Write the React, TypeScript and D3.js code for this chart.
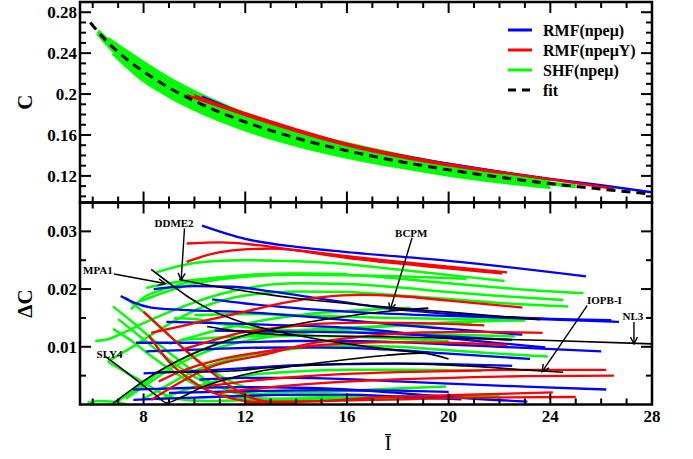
import React from 'react';
import * as d3 from 'd3';

type Pt = [number, number];

const W = 693;
const H = 459;
const LEFT = 80;
const RIGHT = 652;
const TOP_Y0 = 2;
const MID_Y = 202.5;
const BOT_Y1 = 404.5;

// ---- axis ticks ----
const xTicks = [8, 12, 16, 20, 24, 28];
const xMinorTicks = [6, 7, 9, 10, 11, 13, 14, 15, 17, 18, 19, 21, 22, 23, 25, 26, 27];
const cTicks = [0.12, 0.16, 0.2, 0.24, 0.28];
const cTickLabels = ['0.12', '0.16', '0.2', '0.24', '0.28'];
const cMinorTicks = [0.1, 0.11, 0.13, 0.14, 0.15, 0.17, 0.18, 0.19, 0.21, 0.22, 0.23, 0.25, 0.26, 0.27];
const dcTicks = [0.01, 0.02, 0.03];
const dcTickLabels = ['0.01', '0.02', '0.03'];
const dcMinorTicks = [0.005, 0.015, 0.025];

// ---- legend ----
const legendLabels = ['RMF(npeμ)', 'RMF(npeμY)', 'SHF(npeμ)', 'fit'];
const legendColors = ['#0000ff', '#ff0000', '#00ff00', '#000000'];

// ---- upper panel: C versus I ----
const fitI = [5.9, 6.5, 7, 8, 9, 10, 11, 12, 13, 14, 16, 18, 20, 22, 24, 26, 28];
const fitC = [0.27, 0.253, 0.241, 0.222, 0.2063, 0.1933, 0.1822, 0.1727, 0.1644, 0.157, 0.1446, 0.1344, 0.1259, 0.1187, 0.1125, 0.1071, 0.1022];

const blueC: Pt[][] = [
  [[7.1, 0.233], [8, 0.215], [9, 0.1995], [10, 0.187], [12, 0.167]],
  [[7.2, 0.2435], [8, 0.2275], [9, 0.2125], [10, 0.1995], [12, 0.1785], [16, 0.1495]],
];
const blueCTop: Pt[][] = [
  [[10.3, 0.1975], [12, 0.1805], [14, 0.165], [16, 0.151], [18, 0.1405], [20, 0.1318], [22, 0.124], [24, 0.117], [26, 0.1108], [28, 0.104]],
];
const greenC: Pt[][] = [
  [[6.6, 0.254], [7, 0.247], [8, 0.2305], [9, 0.215], [10, 0.202], [12, 0.1805], [14, 0.164], [16, 0.1513], [18, 0.1405], [20, 0.131], [22, 0.1233]],
  [[6.2, 0.2615], [7, 0.244], [8, 0.2262], [9, 0.2105], [10, 0.1975], [12, 0.1765], [14, 0.1605], [16, 0.148], [18, 0.1375], [20, 0.1285], [22, 0.121], [24, 0.1145]],
  [[6.2, 0.2595], [7, 0.241], [8, 0.2222], [9, 0.2065], [10, 0.1935], [12, 0.1728], [14, 0.157], [16, 0.1447], [18, 0.1345], [20, 0.126], [22, 0.1188], [24, 0.1126], [25, 0.1097]],
  [[6.3, 0.2565], [7, 0.238], [8, 0.218], [9, 0.2022], [10, 0.1893], [12, 0.169], [14, 0.1535], [16, 0.1413], [18, 0.1315], [20, 0.1233], [22, 0.1164], [24, 0.1105]],
  [[6.8, 0.24], [8, 0.2135], [9, 0.1982], [10, 0.1855], [12, 0.1655], [14, 0.1505], [16, 0.1388], [18, 0.1293], [20, 0.1212], [22, 0.1146], [24, 0.109]],
  [[7.5, 0.228], [8, 0.22], [9, 0.204], [10, 0.1912], [12, 0.1708], [14, 0.1553], [16, 0.143], [18, 0.133], [20, 0.1247]],
  [[8.5, 0.218], [9, 0.2085], [10, 0.1955], [12, 0.1748], [14, 0.1588], [16, 0.1463], [18, 0.136], [20, 0.1272], [22, 0.1199]],
];
const redC: Pt[][] = [
  [[9.7, 0.199], [12, 0.1795], [16, 0.15], [20, 0.1303], [22.2, 0.1225]],
  [[10, 0.1985], [11, 0.1895], [12, 0.1812], [14, 0.1655], [16, 0.1512], [18, 0.1405], [20, 0.1315], [22, 0.1238], [24, 0.1168], [26.5, 0.1075]],
];

// ---- lower panel: deviation from the fit ----
const blueDC: Pt[][] = [
  [[10.3, 0.031], [12, 0.0287], [14, 0.0273], [16, 0.0264], [20, 0.0249], [25.4, 0.0222]],
  [[10.7, 0.0182], [12, 0.0175], [14, 0.0167], [16, 0.0161], [19, 0.0155], [23, 0.0149], [26.7, 0.0143]],
  [[8.4, 0.02], [10, 0.0205], [11.5, 0.0204], [13, 0.0196], [15, 0.0183], [17, 0.017], [19.7, 0.0158], [23, 0.015], [26.4, 0.0146]],
  [[7.1, 0.0188], [7.6, 0.0177], [8.3, 0.0168], [9.5, 0.0164], [12, 0.016], [15, 0.015], [18, 0.0138], [20, 0.0131], [22.9, 0.0121]],
  [[8.9, 0.0143], [11, 0.0141], [13, 0.0138], [16, 0.0133], [18, 0.0125], [20, 0.0115], [23.8, 0.0099]],
  [[7.7, 0.0107], [10, 0.0107], [12, 0.0108], [14, 0.011], [16, 0.011], [18, 0.0108], [20, 0.0104], [23, 0.0098], [26, 0.0092]],
  [[8.1, 0.0092], [10, 0.0095], [12, 0.0098], [14, 0.0099], [16, 0.0098], [18, 0.0094], [20, 0.0088], [23.2, 0.0079]],
  [[10.8, 0.0128], [12, 0.0127], [14, 0.0126], [16, 0.0125], [18, 0.0122], [20, 0.0118], [22.5, 0.0112]],
  [[8, 0.0054], [10, 0.0058], [12, 0.0063], [14, 0.0068], [16, 0.007], [18, 0.0071], [20, 0.007], [22.5, 0.0067]],
  [[10.2, 0.0043], [12, 0.0046], [14, 0.0046], [16, 0.0044], [18, 0.004], [20, 0.0036], [23, 0.0031], [26.2, 0.0026]],
  [[7.6, 0.0026], [10, 0.0029], [12, 0.003], [14, 0.0029], [16, 0.0026], [18, 0.002], [20, 0.0013], [23.1, 0.0005]],
  [[7.6, 0.0008], [10, 0.0012], [12, 0.0015], [14, 0.0017], [16, 0.0017], [18, 0.0014], [20.5, 0.0009]],
  [[9, 0.002], [12, 0.0023], [15, 0.0025], [18, 0.0024], [20, 0.0022]],
];
const redDC: Pt[][] = [
  [[9.7, 0.0279], [11, 0.0281], [12.5, 0.0276], [14, 0.0267], [16, 0.0254], [19, 0.024], [22.1, 0.0227]],
  [[9.7, 0.0247], [10.5, 0.0259], [11.5, 0.0267], [13, 0.027], [16, 0.0257], [19, 0.0243], [22.3, 0.0229]],
  [[8.3, 0.0124], [9, 0.0131], [10, 0.0141], [11, 0.0151], [12, 0.0161], [13.5, 0.0176], [15, 0.0186], [16.5, 0.019], [18, 0.0188], [20, 0.018], [22.9, 0.0168]],
  [[8, 0.0161], [9, 0.012], [9.7, 0.0092], [10.5, 0.0062], [11.3, 0.0035], [12.1, 0.0014], [13, 0.0005], [15, 0.0006], [17, 0.0012], [20, 0.0016], [24.1, 0.0021]],
  [[8.6, 0.004], [9.5, 0.0058], [10.9, 0.0077], [12.5, 0.009], [14, 0.0099], [16, 0.0106], [18, 0.0108], [20, 0.0107], [22.3, 0.0103]],
  [[9.5, 0.0095], [10.5, 0.0108], [11.8, 0.0124], [13.5, 0.0134], [15, 0.014], [17, 0.0142], [19, 0.0141], [21.4, 0.0137]],
  [[8.3, 0.0008], [9.5, 0.004], [10.7, 0.0066], [12.6, 0.0085], [14.5, 0.0105], [16.5, 0.0117], [19, 0.0125], [21, 0.0126], [23.7, 0.0124]],
  [[10, 0.0028], [12, 0.004], [14, 0.0048], [16, 0.0053], [18, 0.0056], [20, 0.0058], [23, 0.006], [26.2, 0.006]],
  [[11, 0.002], [13, 0.003], [15, 0.0037], [17, 0.0042], [20, 0.0046], [23, 0.0049], [26.5, 0.005]],
  [[12, 0.0003], [15, 0.0006], [18, 0.0009], [21, 0.0012], [25, 0.0013]],
  [[8.2, 0.012], [9, 0.0074], [9.8, 0.0044], [10.5, 0.0025], [11.5, 0.001], [12.5, 0.0004], [14, 0.0003]],
];
const greenDC: Pt[][] = [
  [[8.5, 0.0229], [9.5, 0.0241], [10.7, 0.0248], [12, 0.025], [14, 0.0248], [16, 0.0243], [18, 0.0234], [20.5, 0.0222], [22.2, 0.0214]],
  [[7.9, 0.0179], [9, 0.0197], [10, 0.0209], [11, 0.0217], [12.5, 0.0223], [14, 0.0225], [16, 0.0224], [18, 0.0222], [20.7, 0.0218]],
  [[8.1, 0.0202], [9, 0.021], [10, 0.0216], [11.5, 0.0222], [13, 0.0226], [15, 0.0226], [17, 0.0222], [19, 0.0214], [21, 0.0206], [23, 0.0199], [25.3, 0.0193]],
  [[6.1, 0.011], [6.6, 0.0113], [7.2, 0.0124], [8, 0.0141], [9, 0.016], [10, 0.0177], [11, 0.0191], [12.5, 0.0205], [14, 0.021], [16, 0.0209], [18, 0.0203], [20, 0.0195], [22, 0.0188], [24.5, 0.0181]],
  [[6.6, 0.0075], [7.5, 0.0098], [8.5, 0.0126], [9.5, 0.0152], [10.5, 0.0172], [12, 0.0189], [14, 0.0196], [16, 0.0195], [18, 0.0189], [20, 0.0183], [22, 0.0176], [24.7, 0.017]],
  [[6.8, 0.017], [7.5, 0.0145], [8.3, 0.0115], [9, 0.009], [9.8, 0.0063], [10.5, 0.0042], [11.3, 0.0025], [12, 0.0015], [13, 0.001], [16, 0.001], [19, 0.0012]],
  [[6.8, 0.0131], [7.6, 0.0108], [8.3, 0.0084], [9, 0.0062], [9.8, 0.004], [10.5, 0.0025], [11.5, 0.0014], [13, 0.0008], [16, 0.0008], [20.7, 0.0012]],
  [[6.6, 0.0074], [7.3, 0.0056], [8, 0.0038], [8.6, 0.0022], [9.3, 0.001], [10.5, 0.0006], [13, 0.0009], [16, 0.0012], [22, 0.0014]],
  [[5.8, 0.0003], [6.2, 0.0006], [6.7, 0.0005], [7.3, 0.0001]],
  [[7.3, 0.0185], [8, 0.016], [8.8, 0.0128], [9.6, 0.0096], [10.4, 0.0068], [11.2, 0.0045], [12, 0.003], [13, 0.0022], [15, 0.0022], [17, 0.0026], [19.9, 0.0031]],
  [[7, 0.0148], [7.8, 0.012], [8.5, 0.0095], [9.3, 0.0068], [10, 0.0048], [11, 0.003], [12, 0.002], [14, 0.0016], [17, 0.0014], [22, 0.0014]],
  [[6.9, 0.0003], [7.8, 0.003], [8.7, 0.0058], [9.7, 0.0083], [10.8, 0.0103], [12, 0.0118], [14, 0.0128], [16, 0.0133], [18, 0.0137], [20.9, 0.0142]],
  [[7.3, 0.001], [8.3, 0.004], [9.3, 0.0068], [10.5, 0.0092], [12, 0.011], [14, 0.0123], [16, 0.013], [18, 0.0137], [20, 0.0142], [23, 0.0146]],
  [[8, 0.001], [9, 0.0035], [10, 0.0058], [11.2, 0.0076], [12.5, 0.0088], [14, 0.0097], [16, 0.0102], [18, 0.01], [20, 0.0094], [22, 0.0088], [23.9, 0.0083]],
  [[8.6, 0.0008], [9.6, 0.0025], [10.8, 0.004], [12, 0.005], [14, 0.0057], [16, 0.006], [18, 0.006], [21.3, 0.0058]],
  [[9, 0.0105], [10, 0.0118], [11.5, 0.0135], [13, 0.0148], [14.5, 0.0157], [16, 0.0162], [18.5, 0.0167]],
  [[9.2, 0.015], [10, 0.0148], [11, 0.014], [12.5, 0.0132], [14, 0.0128], [16, 0.0126], [18, 0.0124], [20, 0.0121], [22.6, 0.0118]],
  [[10, 0.0155], [12, 0.0157], [14, 0.0155], [16, 0.0152], [18, 0.015], [20, 0.0148], [23, 0.0146]],
  [[7.5, 0.0165], [8, 0.0185], [8.8, 0.02], [9.8, 0.0212], [11, 0.022], [12.5, 0.0225], [14, 0.0227], [16, 0.0226]],
  [[9.5, 0.0112], [10.5, 0.0115], [12, 0.0118], [14, 0.0119], [16, 0.0118], [18, 0.0114], [20, 0.011]],
];

// labelled models (black)
const mpa1: Pt[] = [[8.3, 0.0234], [8.9, 0.0214], [9.7, 0.0188], [10.5, 0.0167], [11.5, 0.0148], [12.8, 0.0131], [14, 0.012], [16, 0.0105], [18, 0.0094], [19, 0.0089]];
const ddme2: Pt[] = [[9.4, 0.0217], [10.5, 0.0207], [11.5, 0.02], [12.5, 0.0193], [14, 0.0184], [16, 0.0175], [18, 0.0167], [20, 0.016], [22, 0.0153], [23.6, 0.0147]];
const bcpm: Pt[] = [[6.8, 0.0002], [7.5, 0.0025], [8.5, 0.0055], [9.7, 0.0083], [10.7, 0.0102], [11.8, 0.0118], [13, 0.013], [14.5, 0.0143], [16, 0.0153], [17.7, 0.0162], [19.2, 0.0167]];
const nl3: Pt[] = [[10.5, 0.0135], [11.5, 0.0128], [13, 0.0122], [15, 0.0119], [18, 0.0117], [21, 0.0114], [24, 0.0111], [28, 0.0105]];
const sly4: Pt[] = [[6.5, 0.0083], [7.2, 0.006], [7.9, 0.0036], [8.5, 0.0016], [8.9, 0.0003], [9.5, 0.0013], [10.3, 0.003], [11.2, 0.0043], [12.5, 0.0057], [14, 0.0067], [16, 0.0078], [17.5, 0.0085], [18.9, 0.0089], [20, 0.0079]];
const iopb: Pt[] = [[8.6, 0.0056], [10, 0.0056], [11.5, 0.0058], [13, 0.0064], [15, 0.0069], [17, 0.0071], [19, 0.007], [21, 0.0066], [23, 0.006], [24.5, 0.0056]];
const blackDC: Pt[][] = [mpa1, ddme2, bcpm, nl3, sly4, iopb];

// annotation labels: text anchor point and arrow (from, to) in data units
const annoNames = ['DDME2', 'MPA1', 'SLY4', 'BCPM', 'IOPB-I', 'NL3'];
const annoText: Pt[] = [[9.2, 0.0308], [5.62, 0.02253], [6.15, 0.00814], [18.53, 0.02902], [26.13, 0.01741], [27.25, 0.01464]];
const annoAnchor = ['middle', 'start', 'start', 'middle', 'middle', 'middle'];
const annoArrowFrom: (Pt | null)[] = [[9.61, 0.0305], [6.84, 0.02261], null, [18.56, 0.02885], [25.45, 0.01715], [27.29, 0.0143]];
const annoArrowTo: (Pt | null)[] = [[9.48, 0.02156], [8.85, 0.02097], null, [17.7, 0.01637], [23.68, 0.00568], [27.29, 0.01048]];

const FONT = '"Liberation Serif", "Times New Roman", serif';

export default function App() {
  const x = d3.scaleLinear().domain([5.5, 28]).range([LEFT, RIGHT]);
  const yC = d3.scaleLinear().domain([0.094, 0.29]).range([MID_Y, TOP_Y0]);
  const yD = d3.scaleLinear().domain([0, 0.035]).range([BOT_Y1, MID_Y]);

  const lineC = d3.line<Pt>().x((d) => x(d[0])).y((d) => yC(d[1])).curve(d3.curveMonotoneX);
  const lineD = d3.line<Pt>().x((d) => x(d[0])).y((d) => yD(d[1])).curve(d3.curveMonotoneX);
  const fitPts: Pt[] = fitI.map((v, i) => [v, fitC[i]]);

  const MAJ = 11;
  const MIN = 6;

  const axisTicks = (yScale: d3.ScaleLinear<number, number>, y0: number, y1: number, major: number[], minor: number[], key: string) => (
    <g key={key} stroke="#000" strokeWidth={2}>
      {xTicks.map((t) => (
        <g key={'xm' + t}>
          <line x1={x(t)} x2={x(t)} y1={y0} y2={y0 + MAJ} />
          <line x1={x(t)} x2={x(t)} y1={y1} y2={y1 - MAJ} />
        </g>
      ))}
      {xMinorTicks.map((t) => (
        <g key={'xn' + t}>
          <line x1={x(t)} x2={x(t)} y1={y0} y2={y0 + MIN} />
          <line x1={x(t)} x2={x(t)} y1={y1} y2={y1 - MIN} />
        </g>
      ))}
      {major.map((t) => (
        <g key={'ym' + t}>
          <line x1={LEFT} x2={LEFT + MAJ} y1={yScale(t)} y2={yScale(t)} />
          <line x1={RIGHT} x2={RIGHT - MAJ} y1={yScale(t)} y2={yScale(t)} />
        </g>
      ))}
      {minor.map((t) => (
        <g key={'yn' + t}>
          <line x1={LEFT} x2={LEFT + MIN} y1={yScale(t)} y2={yScale(t)} />
          <line x1={RIGHT} x2={RIGHT - MIN} y1={yScale(t)} y2={yScale(t)} />
        </g>
      ))}
    </g>
  );

  return (
    <svg width={W} height={H} style={{ display: 'block', position: 'absolute', left: 0, top: 0 }} fontFamily={FONT}>
      <defs>
        <clipPath id="clipTop">
          <rect x={LEFT} y={TOP_Y0} width={RIGHT - LEFT} height={MID_Y - TOP_Y0} />
        </clipPath>
        <clipPath id="clipBot">
          <rect x={LEFT} y={MID_Y} width={RIGHT - LEFT} height={BOT_Y1 - MID_Y} />
        </clipPath>
        <marker id="arrow" viewBox="-8 -5 10 10" refX={0} refY={0} markerWidth={10} markerHeight={10} markerUnits="userSpaceOnUse" orient="auto">
          <path d="M-7,-3.5 L0,0 L-7,3.5" fill="none" stroke="#000" strokeWidth={1.4} />
        </marker>
      </defs>
      <rect x={0} y={0} width={W} height={H} fill="#fff" />

      {/* upper panel curves */}
      <g clipPath="url(#clipTop)" fill="none">
        {blueC.map((c, i) => <path key={'bc' + i} d={lineC(c) || ''} stroke="#0000ff" strokeWidth={2.5} />)}
        {greenC.map((c, i) => <path key={'gc' + i} d={lineC(c) || ''} stroke="#00ff00" strokeWidth={4} />)}
        {blueCTop.map((c, i) => <path key={'bt' + i} d={lineC(c) || ''} stroke="#0000ff" strokeWidth={2.5} />)}
        {redC.map((c, i) => <path key={'rc' + i} d={lineC(c) || ''} stroke="#ff0000" strokeWidth={2.5} />)}
        <path d={lineC(fitPts) || ''} stroke="#000" strokeWidth={3} strokeDasharray="9,6" />
      </g>

      {/* lower panel curves */}
      <g clipPath="url(#clipBot)" fill="none">
        {greenDC.map((c, i) => <path key={'gd' + i} d={lineD(c) || ''} stroke="#00ff00" strokeWidth={2.5} />)}
        {blueDC.map((c, i) => <path key={'bd' + i} d={lineD(c) || ''} stroke="#0000ff" strokeWidth={2.3} />)}
        {redDC.map((c, i) => <path key={'rd' + i} d={lineD(c) || ''} stroke="#ff0000" strokeWidth={2.3} />)}
        {blackDC.map((c, i) => <path key={'kd' + i} d={lineD(c) || ''} stroke="#000" strokeWidth={1.6} />)}
      </g>

      {/* ticks */}
      {axisTicks(yC, TOP_Y0, MID_Y, cTicks, cMinorTicks, 'tTop')}
      {axisTicks(yD, MID_Y, BOT_Y1, dcTicks, dcMinorTicks, 'tBot')}

      {/* frames */}
      <rect x={LEFT} y={TOP_Y0} width={RIGHT - LEFT} height={MID_Y - TOP_Y0} fill="none" stroke="#000" strokeWidth={2.5} />
      <rect x={LEFT} y={MID_Y} width={RIGHT - LEFT} height={BOT_Y1 - MID_Y} fill="none" stroke="#000" strokeWidth={2.5} />

      {/* tick labels */}
      <g fontSize={17} fontWeight="bold" fill="#000">
        {cTicks.map((t, i) => (
          <text key={'cl' + t} x={LEFT - 3} y={yC(t)} dy="0.36em" textAnchor="end">{cTickLabels[i]}</text>
        ))}
        {dcTicks.map((t, i) => (
          <text key={'dl' + t} x={LEFT - 3} y={yD(t)} dy="0.36em" textAnchor="end">{dcTickLabels[i]}</text>
        ))}
        {xTicks.map((t) => (
          <text key={'xl' + t} x={x(t)} y={421.5} textAnchor="middle">{t}</text>
        ))}
      </g>

      {/* axis titles */}
      <text transform={`translate(32,${(TOP_Y0 + MID_Y) / 2}) rotate(-90)`} textAnchor="middle" fontSize={21} fontWeight="bold">C</text>
      <text transform={`translate(32,${(MID_Y + BOT_Y1) / 2}) rotate(-90)`} textAnchor="middle" fontSize={21} fontWeight="bold">ΔC</text>
      <text x={(LEFT + RIGHT) / 2 + 22} y={450} textAnchor="middle" fontSize={20}>Ī</text>

      {/* legend */}
      <g>
        {legendLabels.map((lab, i) => (
          <g key={lab}>
            <line x1={508} x2={532} y1={30 + i * 20} y2={30 + i * 20} stroke={legendColors[i]} strokeWidth={3} strokeDasharray={i === 3 ? '8,6' : undefined} />
            <text x={543} y={30 + i * 20} dy="0.35em" fontSize={16} fontWeight="bold">{lab}</text>
          </g>
        ))}
      </g>

      {/* model annotations */}
      <g fontSize={11} fontWeight="bold">
        {annoNames.map((name, i) => {
          const from = annoArrowFrom[i];
          const to = annoArrowTo[i];
          return (
            <g key={name}>
              <text x={x(annoText[i][0])} y={yD(annoText[i][1])} textAnchor={annoAnchor[i] as any}>{name}</text>
              {from && to && (
                <line x1={x(from[0])} y1={yD(from[1])} x2={x(to[0])} y2={yD(to[1])} stroke="#000" strokeWidth={1.4} markerEnd="url(#arrow)" />
              )}
            </g>
          );
        })}
      </g>
    </svg>
  );
}
